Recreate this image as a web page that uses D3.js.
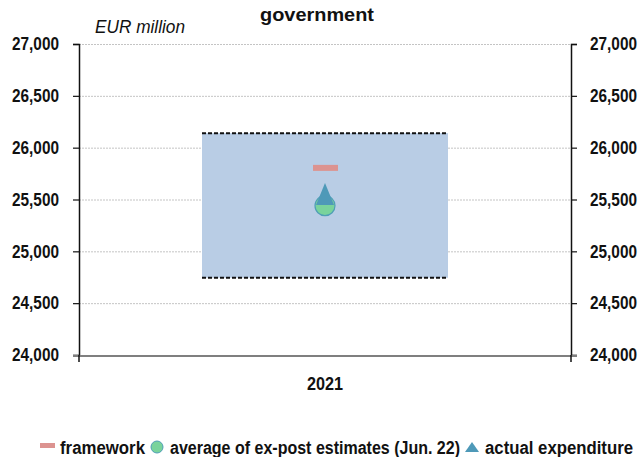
<!DOCTYPE html>
<html>
<head>
<meta charset="utf-8">
<script src="https://cdn.jsdelivr.net/npm/d3@7"></script>
<style>
  html, body { margin: 0; padding: 0; background: #fff; }
  svg text { font-family: "Liberation Sans", Arial, sans-serif; fill: #111; }
</style>
</head>
<body>
<svg id="chart" width="644" height="457"></svg>
<script>
// Expenditure data, EUR million
const categories = ["2021"];
const rangeLow = [24745];
const rangeHigh = [26140];
const framework = [25805];
const expostAverage = [25440];
const actualExpenditure = [25553];
const yTicks = [24000, 24500, 25000, 25500, 26000, 26500, 27000];
const legendLabels = ["framework", "average of ex-post estimates (Jun. 22)", "actual expenditure"];

const colors = {
  range: "#b9cde5",
  framework: "#dc9390",
  circle: "#79d39c",
  circleStroke: "#4f9fb6",
  triangle: "#4e99b8"
};

const svg = d3.select("#chart");
const m = { left: 79, right: 571, top: 44, bottom: 355 };

const x = d3.scaleBand().domain(categories).range([m.left, m.right]);
const y = d3.scaleLinear().domain([24000, 27000]).range([m.bottom, m.top]);
const fmt = d3.format(",");

// squeeze a text element to a condensed width
function condense(sel, w) {
  sel.attr("textLength", w).attr("lengthAdjust", "spacingAndGlyphs");
}

// gridlines
svg.append("g").selectAll("line").data(yTicks.filter(t => t > 24000)).join("line")
  .attr("x1", m.left).attr("x2", m.right)
  .attr("y1", d => y(d) + 0.5).attr("y2", d => y(d) + 0.5)
  .attr("stroke", "#c4c4c4").attr("stroke-width", 1).attr("stroke-dasharray", "2,1");

// range box with markers
const boxW = 246;
categories.forEach((c, i) => {
  const cx = x(c) + x.bandwidth() / 2;
  svg.append("rect")
    .attr("x", cx - boxW / 2).attr("width", boxW)
    .attr("y", y(rangeHigh[i])).attr("height", y(rangeLow[i]) - y(rangeHigh[i]))
    .attr("fill", colors.range);
  [rangeHigh[i], rangeLow[i]].forEach(v => {
    svg.append("line")
      .attr("x1", cx - boxW / 2).attr("x2", cx + boxW / 2)
      .attr("y1", y(v)).attr("y2", y(v))
      .attr("stroke", "#111").attr("stroke-width", 2).attr("stroke-dasharray", "4,2");
  });
  // framework marker
  svg.append("rect")
    .attr("x", cx - 12).attr("width", 25)
    .attr("y", y(framework[i]) - 3).attr("height", 6)
    .attr("fill", colors.framework);
  // ex-post average
  svg.append("circle")
    .attr("cx", cx).attr("cy", y(expostAverage[i])).attr("r", 10)
    .attr("fill", colors.circle).attr("stroke", colors.circleStroke).attr("stroke-width", 1.2);
  // actual expenditure
  const ty = y(actualExpenditure[i]);
  svg.append("path")
    .attr("d", `M${cx},${ty - 11} L${cx + 9},${ty + 11} L${cx - 9},${ty + 11} Z`)
    .attr("fill", colors.triangle);
});

// value axes on both sides
const yl = d3.axisLeft(y).tickValues(yTicks).tickFormat(fmt).tickSize(6).tickPadding(14);
const yr = d3.axisRight(y).tickValues(yTicks).tickFormat(fmt).tickSize(6).tickPadding(13);
const gl = svg.append("g").attr("transform", `translate(${m.left},0)`).call(yl);
const gr = svg.append("g").attr("transform", `translate(${m.right},0)`).call(yr);
[gl, gr].forEach(g => {
  g.select(".domain").attr("stroke", "#111").attr("stroke-width", 1.5);
  g.selectAll(".tick line").attr("stroke", "#111").attr("stroke-width", 1.2);
  g.selectAll(".tick text").style("font-size", "18px").style("font-weight", "bold")
    .attr("fill", "#111").call(condense, 47);
});

// category axis
svg.append("line").attr("x1", 73).attr("x2", 577).attr("y1", m.bottom + 1).attr("y2", m.bottom + 1)
  .attr("stroke", "#7f7f7f").attr("stroke-width", 2);
[m.left, m.right].forEach(px => {
  svg.append("line").attr("x1", px).attr("x2", px).attr("y1", m.bottom).attr("y2", m.bottom + 7)
    .attr("stroke", "#111").attr("stroke-width", 1.5);
});
svg.selectAll(".cat").data(categories).join("text")
  .attr("x", d => x(d) + x.bandwidth() / 2).attr("y", 390)
  .attr("text-anchor", "middle").style("font-size", "18px").style("font-weight", "bold")
  .text(d => d).call(condense, 36);

// titles
svg.append("text").attr("x", 317).attr("y", 21).attr("text-anchor", "middle")
  .style("font-size", "18px").style("font-weight", "bold").text("government").call(condense, 114);
svg.append("text").attr("x", 95).attr("y", 33)
  .style("font-size", "18px").style("font-style", "italic").text("EUR million").call(condense, 90);

// legend
const lg = svg.append("g").attr("transform", "translate(0,447)");
lg.append("rect").attr("x", 40).attr("y", -4).attr("width", 15).attr("height", 5).attr("fill", colors.framework);
lg.append("text").attr("x", 60).attr("y", 7).style("font-size", "18px").style("font-weight", "bold")
  .text(legendLabels[0]).call(condense, 85);
lg.append("circle").attr("cx", 157).attr("cy", 0).attr("r", 6)
  .attr("fill", colors.circle).attr("stroke", colors.circleStroke);
lg.append("text").attr("x", 170).attr("y", 7).style("font-size", "18px").style("font-weight", "bold")
  .text(legendLabels[1]).call(condense, 290);
lg.append("path").attr("d", "M472,-5 L479,5 L465,5 Z").attr("fill", colors.triangle);
lg.append("text").attr("x", 485).attr("y", 7).style("font-size", "18px").style("font-weight", "bold")
  .text(legendLabels[2]).call(condense, 148);
</script>
</body>
</html>
